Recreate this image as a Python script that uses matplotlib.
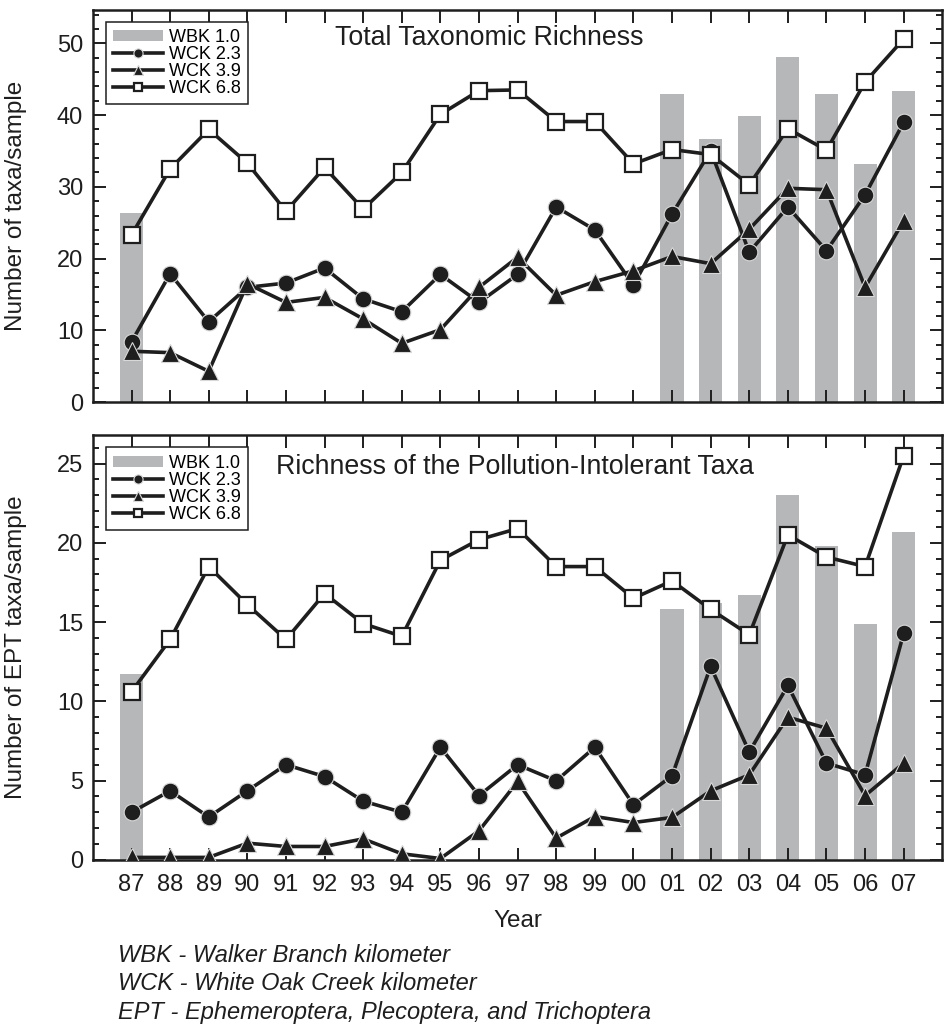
import numpy as np
import matplotlib
matplotlib.use("Agg")
import matplotlib.pyplot as plt
from matplotlib.ticker import MultipleLocator

plt.rcParams['font.family'] = ['Liberation Sans', 'DejaVu Sans']

nan = np.nan
years = ['87', '88', '89', '90', '91', '92', '93', '94', '95', '96', '97',
         '98', '99', '00', '01', '02', '03', '04', '05', '06', '07']

# Total taxonomic richness
wbk10_total = [26.4, nan, nan, nan, nan, nan, nan, nan, nan, nan, nan,
               nan, nan, nan, 42.9, 36.7, 39.9, 48.1, 42.9, 33.2, 43.4]
wck23_total = [8.4, 17.9, 11.2, 16.0, 16.6, 18.7, 14.4, 12.6, 17.8, 13.9, 17.8,
               27.2, 24.0, 16.3, 26.2, 35.0, 20.9, 27.2, 21.1, 28.9, 39.0]
wck39_total = [7.1, 6.9, 4.3, 16.5, 13.9, 14.6, 11.6, 8.2, 10.1, 16.0, 20.2,
               14.9, 16.8, 18.3, 20.3, 19.3, 24.1, 29.8, 29.6, 16.0, 25.3]
wck68_total = [23.3, 32.5, 38.0, 33.3, 26.6, 32.7, 26.9, 32.0, 40.1, 43.4, 43.5,
               39.1, 39.1, 33.2, 35.2, 34.5, 30.3, 38.1, 35.1, 44.6, 50.6]

# EPT richness
wbk10_ept = [11.7, nan, nan, nan, nan, nan, nan, nan, nan, nan, nan,
             nan, nan, nan, 15.8, 16.2, 16.7, 23.0, 19.8, 14.9, 20.7]
wck23_ept = [3.0, 4.35, 2.7, 4.35, 6.0, 5.25, 3.7, 3.0, 7.1, 4.05, 6.0,
             4.98, 7.1, 3.47, 5.3, 12.2, 6.8, 11.0, 6.1, 5.36, 14.3]
wck39_ept = [0.15, 0.15, 0.15, 1.05, 0.84, 0.84, 1.32, 0.38, 0.08, 1.83, 4.94,
             1.37, 2.73, 2.35, 2.67, 4.35, 5.36, 9.0, 8.3, 4.05, 6.1]
wck68_ept = [10.6, 13.9, 18.5, 16.1, 13.9, 16.8, 14.9, 14.1, 18.9, 20.2, 20.9,
             18.5, 18.5, 16.5, 17.6, 15.8, 14.2, 20.5, 19.1, 18.5, 25.5]

notes = ['WBK - Walker Branch kilometer',
         'WCK - White Oak Creek kilometer',
         'EPT - Ephemeroptera, Plecoptera, and Trichoptera']

x = np.arange(len(years))
bar_color = '#b6b7b9'
ink = '#1e1e1e'

fig = plt.figure(figsize=(9.48, 10.26), dpi=100)
ax1 = fig.add_axes([0.098, 0.608, 0.896, 0.382])
ax2 = fig.add_axes([0.098, 0.162, 0.896, 0.414])


def draw_panel(ax, bars, c23, c39, c68, ymax, minor, major, title, tx, ty, ylabel):
    b = ax.bar(x, bars, width=0.6, color=bar_color, label='WBK 1.0', zorder=1)
    l23, = ax.plot(x, c23, color=ink, lw=2.6, marker='o', ms=12,
                   mfc=ink, mec='#d8d8d8', mew=0.8, label='WCK 2.3', zorder=3)
    l39, = ax.plot(x, c39, color=ink, lw=2.6, marker='^', ms=12.5,
                   mfc=ink, mec='#d8d8d8', mew=0.8, label='WCK 3.9', zorder=4)
    l68, = ax.plot(x, c68, color=ink, lw=2.6, marker='s', ms=11,
                   mfc='white', mec=ink, mew=1.6, label='WCK 6.8', zorder=5)
    ax.set_xlim(-1, 21)
    ax.set_ylim(0, ymax)
    ax.set_xticks(x)
    ax.yaxis.set_major_locator(MultipleLocator(major))
    ax.yaxis.set_minor_locator(MultipleLocator(minor))
    ax.tick_params(which='both', direction='in', top=True, right=True,
                   labelsize=17, width=1.4, colors=ink)
    ax.tick_params(which='major', length=9)
    ax.tick_params(which='minor', length=4.5)
    ax.tick_params(axis='y', pad=7)
    ax.tick_params(axis='x', pad=10)
    for sp in ax.spines.values():
        sp.set_linewidth(1.8)
        sp.set_color(ink)
    ax.text(tx, ty, title, transform=ax.transAxes, ha='center', va='center',
            fontsize=19.3, color=ink)
    ax.set_ylabel(ylabel, fontsize=17.5, color=ink)
    ax.yaxis.set_label_coords(-0.077, 0.5)
    leg = ax.legend([b, l23, l39, l68], ['WBK 1.0', 'WCK 2.3', 'WCK 3.9', 'WCK 6.8'],
                    loc='upper left', bbox_to_anchor=(0.015, 0.971),
                    fontsize=13, frameon=True, fancybox=False, edgecolor=ink,
                    framealpha=1, handlelength=2.8, handleheight=0.55,
                    labelspacing=0.0, borderpad=0.4, handletextpad=0.3,
                    markerscale=0.55, borderaxespad=0)
    leg.get_frame().set_linewidth(1.1)


draw_panel(ax1, wbk10_total, wck23_total, wck39_total, wck68_total,
           54.6, 2, 10, 'Total Taxonomic Richness', 0.467, 0.929,
           'Number of taxa/sample')
ax1.set_xticklabels([])

draw_panel(ax2, wbk10_ept, wck23_ept, wck39_ept, wck68_ept,
           26.8, 1, 5, 'Richness of the Pollution-Intolerant Taxa', 0.497, 0.925,
           'Number of EPT taxa/sample')
ax2.set_xticklabels(years)
ax2.set_xlabel('Year', fontsize=17.5, color=ink, labelpad=10)

for i, note in enumerate(notes):
    fig.text(0.124, (1026 - 955 - 29 * i) / 1026, note, fontsize=17, style='italic',
             color=ink, va='center', ha='left')

fig.savefig('out.png', dpi=100)
